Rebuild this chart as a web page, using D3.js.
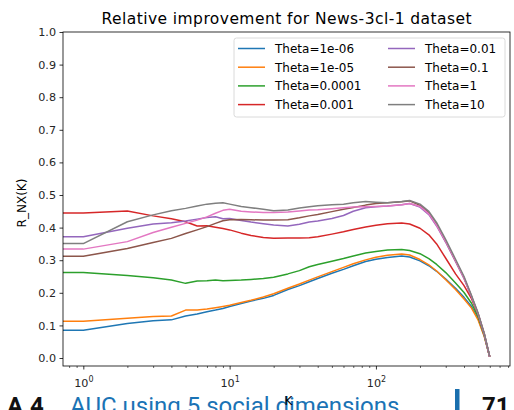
<!DOCTYPE html>
<html><head><meta charset="utf-8">
<script src="https://cdn.jsdelivr.net/npm/d3@7"></script>
<style>
html,body{margin:0;padding:0;background:#fff;overflow:hidden;}
svg{display:block;font-family:"DejaVu Sans",sans-serif;}
</style></head>
<body>
<svg id="chart" width="514" height="410"></svg>
<script>
const title = "Relative improvement for News-3cl-1 dataset";
const yLabel = "R_NX(K)";
const xLabel = "K";
const seriesNames = ["Theta=1e-06","Theta=1e-05","Theta=0.0001","Theta=0.001","Theta=0.01","Theta=0.1","Theta=1","Theta=10"];
const colors = ["#1f77b4","#ff7f0e","#2ca02c","#d62728","#9467bd","#8c564b","#e377c2","#7f7f7f"];
const K = [0,1,2,3,4,5,6,7,8,9,10,12,14,17,20,25,30,35,40,50,60,70,85,100,120,150,170,200,230,260,300,350,400,450,500,550,599];
const theta1e6 = [0.085,0.085,0.106,0.114,0.117,0.129,0.135,0.142,0.147,0.152,0.158,0.167,0.175,0.183,0.192,0.210,0.222,0.234,0.244,0.260,0.272,0.283,0.296,0.303,0.308,0.313,0.310,0.298,0.283,0.266,0.242,0.214,0.186,0.158,0.120,0.068,0.004];
const theta1e5 = [0.113,0.113,0.122,0.127,0.129,0.147,0.147,0.150,0.154,0.158,0.162,0.170,0.177,0.187,0.197,0.214,0.227,0.239,0.249,0.265,0.278,0.289,0.301,0.309,0.315,0.319,0.316,0.302,0.286,0.267,0.240,0.210,0.181,0.153,0.116,0.066,0.004];
const theta1e4 = [0.262,0.262,0.253,0.246,0.239,0.229,0.236,0.237,0.239,0.237,0.238,0.239,0.241,0.244,0.248,0.258,0.268,0.280,0.287,0.297,0.305,0.313,0.322,0.327,0.331,0.333,0.330,0.320,0.305,0.287,0.262,0.230,0.201,0.168,0.126,0.070,0.004];
const theta1e3 = [0.445,0.445,0.451,0.436,0.427,0.418,0.405,0.406,0.401,0.397,0.393,0.383,0.376,0.370,0.367,0.368,0.368,0.369,0.372,0.380,0.387,0.394,0.402,0.407,0.412,0.414,0.411,0.398,0.378,0.350,0.306,0.258,0.222,0.182,0.133,0.074,0.004];
const theta1e2 = [0.372,0.372,0.398,0.411,0.415,0.420,0.426,0.431,0.433,0.427,0.428,0.422,0.417,0.412,0.408,0.405,0.410,0.417,0.420,0.428,0.437,0.450,0.461,0.464,0.466,0.470,0.474,0.463,0.440,0.405,0.355,0.296,0.244,0.188,0.134,0.073,0.004];
const theta1e1 = [0.312,0.312,0.336,0.354,0.367,0.382,0.393,0.403,0.413,0.421,0.424,0.425,0.424,0.423,0.423,0.424,0.430,0.436,0.440,0.449,0.456,0.462,0.469,0.474,0.476,0.479,0.482,0.468,0.445,0.410,0.358,0.298,0.246,0.189,0.134,0.073,0.004];
const theta1 = [0.334,0.334,0.357,0.385,0.401,0.413,0.423,0.433,0.444,0.453,0.456,0.450,0.448,0.446,0.446,0.448,0.451,0.454,0.455,0.458,0.461,0.463,0.464,0.465,0.466,0.470,0.474,0.465,0.442,0.407,0.357,0.298,0.245,0.189,0.135,0.074,0.004];
const theta10 = [0.351,0.351,0.418,0.439,0.452,0.459,0.466,0.472,0.475,0.476,0.472,0.465,0.461,0.456,0.452,0.454,0.460,0.464,0.467,0.470,0.472,0.476,0.480,0.478,0.476,0.480,0.483,0.472,0.450,0.415,0.363,0.303,0.250,0.192,0.137,0.076,0.005];
const seriesValues = [theta1e6,theta1e5,theta1e4,theta1e3,theta1e2,theta1e1,theta1,theta10];
const yTicks = [0,0.1,0.2,0.3,0.4,0.5,0.6,0.7,0.8,0.9,1.0];
const xMajorTicks = [1,10,100];
const xTickExponents = ["0","1","2"];

const svg = d3.select("#chart");
const m = {l:63, r:4, t:32, b:44};
const W = 514, H = 410;
const pw = W - m.l - m.r, ph = H - m.t - m.b;

const kPos = K.filter(k => k > 0);
const lo = Math.log10(d3.min(kPos)), hi = Math.log10(d3.max(kPos));
const pad = (hi - lo) * 0.05;
const x = d3.scaleLog().domain([Math.pow(10, lo - pad), Math.pow(10, hi + pad)]).range([m.l, m.l + pw]);
const y = d3.scaleLinear().domain([-0.0245, 1.0]).range([m.t + ph, m.t]);

svg.append("defs").append("clipPath").attr("id","clip")
  .append("rect").attr("x", m.l).attr("y", m.t).attr("width", pw).attr("height", ph);

// lines
const line = d3.line()
  .x(d => d[0] > 0 ? x(d[0]) : x.range()[0])
  .y(d => y(d[1]));
const g = svg.append("g").attr("clip-path","url(#clip)");
seriesValues.forEach((vals, i) => {
  g.append("path").datum(K.map((k, j) => [k, vals[j]]))
    .attr("d", line).attr("fill","none").attr("stroke", colors[i])
    .attr("stroke-width", 1.5).attr("stroke-linejoin","round");
});

// y axis
const yAxis = d3.axisLeft(y).tickValues(yTicks).tickFormat(d3.format(".1f")).tickSizeOuter(0).tickSize(3.5).tickPadding(3.5);
const ya = svg.append("g").attr("transform", `translate(${m.l},0)`).call(yAxis);
ya.select(".domain").remove();
ya.selectAll("text").attr("font-size", 11.2).attr("font-family","DejaVu Sans").attr("fill","#262626");
ya.selectAll("line").attr("stroke","#000").attr("stroke-width",0.8);

// x axis minor ticks
const minor = [];
for (let e = -1; e <= 3; e++) for (let d = 2; d <= 9; d++) {
  const v = d * Math.pow(10, e);
  if (v >= x.domain()[0] && v <= x.domain()[1]) minor.push(v);
}
const xMinor = d3.axisBottom(x).tickValues(minor).tickFormat("").tickSize(2).tickSizeOuter(0);
const xm = svg.append("g").attr("transform", `translate(0,${m.t + ph})`).call(xMinor);
xm.select(".domain").remove();
xm.selectAll("line").attr("stroke","#000").attr("stroke-width",0.6);

const xAxis = d3.axisBottom(x).tickValues(xMajorTicks).tickFormat("").tickSize(3.5).tickSizeOuter(0);
const xa = svg.append("g").attr("transform", `translate(0,${m.t + ph})`).call(xAxis);
xa.select(".domain").remove();
xa.selectAll("line").attr("stroke","#000").attr("stroke-width",0.8);
xa.selectAll(".tick").each(function(d, i) {
  const t = d3.select(this).append("text").attr("y", 21).attr("text-anchor","middle")
    .attr("font-size", 11.2).attr("font-family","DejaVu Sans").attr("fill","#262626");
  t.append("tspan").text("10");
  t.append("tspan").attr("dy", -5).attr("font-size", 8).text(xTickExponents[i]);
});

// frame
svg.append("rect").attr("x", m.l).attr("y", m.t).attr("width", pw).attr("height", ph)
  .attr("fill","none").attr("stroke","#000").attr("stroke-width",0.8);

// title
svg.append("text").attr("x", m.l + pw/2).attr("y", 23.5).attr("text-anchor","middle")
  .attr("font-size", 15.5).attr("textLength", 370).attr("lengthAdjust","spacing")
  .attr("fill","#000").text(title);

// y label
svg.append("text").attr("transform", `translate(26,${m.t + ph/2 + 4}) rotate(-90)`)
  .attr("text-anchor","middle").attr("font-size", 12).attr("fill","#000").text(yLabel);

// legend
const lg = svg.append("g").attr("transform","translate(234,38)");
lg.append("rect").attr("width", 271).attr("height", 79).attr("rx", 2.5)
  .attr("fill","#fff").attr("fill-opacity",0.8).attr("stroke","#d0d0d0").attr("stroke-width",0.8);
seriesNames.forEach((name, i) => {
  const col = Math.floor(i / 4), row = i % 4;
  const gx = 4 + col * 150, gy = 10.5 + row * 18.7;
  lg.append("line").attr("x1", gx).attr("x2", gx + 27).attr("y1", gy).attr("y2", gy)
    .attr("stroke", colors[i]).attr("stroke-width", 1.5);
  lg.append("text").attr("x", gx + 37).attr("y", gy + 4.3).attr("font-size", 12)
    .attr("fill","#000").text(name);
});

// page overlay text from the document behind
svg.append("text").attr("x", 7).attr("y", 414).attr("font-family","Roboto").attr("font-weight","bold")
  .attr("font-size", 24).attr("fill","#111").text("A.4");
svg.append("text").attr("x", 70).attr("y", 414).attr("font-family","Roboto")
  .attr("font-size", 24).attr("fill","#1a73b5").text("AUC using 5 social dimensions");
svg.append("rect").attr("x", 455).attr("y", 389).attr("width", 4.5).attr("height", 21).attr("fill","#1a6fae");
svg.append("text").attr("x", 482).attr("y", 414).attr("font-family","Roboto").attr("font-weight","bold")
  .attr("font-size", 24).attr("fill","#111").text("71");

// x label
svg.append("text").attr("x", m.l + pw/2 + 2).attr("y", 405).attr("text-anchor","middle")
  .attr("font-size", 12).attr("fill","#000").text(xLabel);
</script>
</body></html>
